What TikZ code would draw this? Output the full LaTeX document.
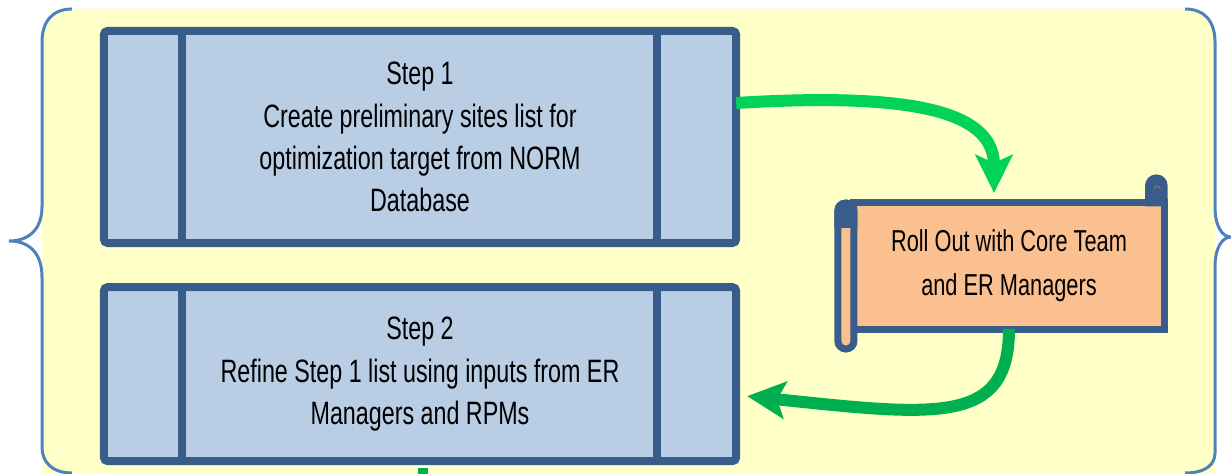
\documentclass[tikz,border=0pt]{standalone}
\usepackage{fontspec}
\setmainfont{Liberation Sans}[FakeStretch=0.72]
\usetikzlibrary{arrows.meta,positioning}
\definecolor{panel}{RGB}{255,255,200}
\definecolor{bracec}{RGB}{79,129,189}
\definecolor{boxfill}{RGB}{185,205,229}
\definecolor{boxline}{RGB}{56,93,138}
\definecolor{scrollfill}{RGB}{250,192,144}
\definecolor{greenA}{RGB}{0,210,90}
\definecolor{greenB}{RGB}{0,176,80}
\tikzset{
    %Define style for step boxes
    stepbox/.style={
           rectangle,
           rounded corners=0.04cm,
           draw=boxline, fill=boxfill,
           line width=0.08cm,
           outer sep=0pt,
           minimum width=6.32cm,
           align=center,
           font=\fontsize{9.2}{12}\selectfont},
    % Define style for the scroll
    scrollbox/.style={
           rectangle,
           draw=boxline, fill=scrollfill,
           line width=0.07cm,
           outer sep=0pt,
           minimum width=3.1cm, minimum height=1.26cm,
           align=center,
           font=\fontsize{8.6}{12.6}\selectfont},
    % Define arrow style
    flow/.style={
           line width=0.12cm,
           -{Stealth[length=0.38cm,width=0.37cm,inset=0.08cm]}},
    brace/.style={draw=bracec, line width=0.03cm}
}
\newcommand*{\stepsplit}[1]{%
  \draw[boxline, line width=0.08cm] ([xshift=0.78cm]#1.north west) -- ([xshift=0.78cm]#1.south west);
  \draw[boxline, line width=0.08cm] ([xshift=-0.79cm]#1.north east) -- ([xshift=-0.79cm]#1.south east);}

\begin{document}
\begin{tikzpicture}[x=0.01cm,y=-0.01cm]
\useasboundingbox (0,0) rectangle (1231,474);
\clip (0,0) rectangle (1231,474);

% Yellow panel between the two braces
\fill[panel, rounded corners=0.3cm] (42,9) rectangle (1215,500);
\draw[brace] (72,9) .. controls (52,9) and (42,22) .. (42,42) -- (42,207)
    .. controls (42,228) and (30,241) .. (9,241)
    .. controls (30,241) and (42,254) .. (42,277) -- (42,447)
    .. controls (42,462) and (52,473) .. (72,473);
\draw[brace] (1185,9) .. controls (1205,9) and (1215,22) .. (1215,42) -- (1215,207)
    .. controls (1215,226) and (1222,237) .. (1231,237)
    .. controls (1222,237) and (1215,248) .. (1215,267) -- (1215,453)
    .. controls (1215,465) and (1205,473) .. (1185,473);

% The two steps
\node[stepbox, minimum height=2.12cm] (step1) at (420,137)
    {Step 1\\Create preliminary sites list for\\optimization target from NORM\\Database};
\stepsplit{step1}
\node[stepbox, minimum height=1.74cm, below=0.44cm of step1] (step2)
    {Step 2\\Refine Step 1 list using inputs from ER\\Managers and RPMs};
\stepsplit{step2}

% The scroll
\node[scrollbox] (rollout) at (1009,266) {Roll Out with Core Team\\and ER Managers};
\draw[boxline, fill=scrollfill, line width=0.07cm, rounded corners=0.08cm]
    ([xshift=-0.16cm]rollout.north west) rectangle ([yshift=-0.2cm]rollout.south west);
\fill[boxline] ([xshift=-0.195cm,yshift=-0.25cm]rollout.north west)
    [rounded corners=0.1cm] -- ++(0,-28) -- ++(23,0) [sharp corners] -- ++(0,28) -- cycle;
\fill[boxline] ([xshift=-0.19cm,yshift=-0.035cm]rollout.north east)
    [rounded corners=0.11cm] -- ++(0,-32) -- ++(22.5,0) [sharp corners] -- ++(0,32) -- cycle;
\draw[boxline!55!scrollfill, line width=0.006cm] ([xshift=-0.04cm,yshift=0.14cm]rollout.north east)
    arc[start angle=0,end angle=180,radius=0.03cm];

% Connectors
\coordinate (out1) at ([yshift=0.34cm]step1.east);
\coordinate (in1) at ([xshift=-0.15cm,yshift=0.1cm]rollout.north);
\draw[flow, greenA] (out1) .. controls +(165,-10) and +(0,-85) .. (in1);
\coordinate (in2) at ([xshift=0.11cm,yshift=-0.22cm]step2.east);
\draw[flow, greenB] (rollout.south) .. controls +(0,96) and +(190,20) .. (in2);
\draw[greenB, line width=0.1cm] ([xshift=0.03cm,yshift=-0.07cm]step2.south) -- ++(0,20);
\end{tikzpicture}
\end{document}
